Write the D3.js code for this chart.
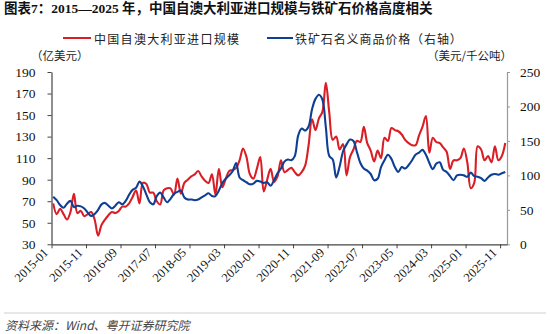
<!DOCTYPE html>
<html><head><meta charset="utf-8">
<script src="https://cdn.jsdelivr.net/npm/d3@7"></script>
<style>
html,body{margin:0;padding:0;background:#fff;}
svg{display:block;}
</style></head>
<body>
<svg id="chart" width="550" height="334"></svg>
<script>
// ---- data ----
const titleText = "图表7：2015—2025 年，中国自澳大利亚进口规模与铁矿石价格高度相关";
const sourceText = "资料来源：Wind、粤开证券研究院";
const seriesNames = ["中国自澳大利亚进口规模", "铁矿石名义商品价格（右轴）"];
const leftUnit = "（亿美元）";
const rightUnit = "（美元/千公吨）";

// monthly categories 2015-01 .. 2025-12
const months = [];
for (let y = 2015; y <= 2025; y++) for (let m = 1; m <= 12; m++) months.push(y + "-" + String(m).padStart(2, "0"));

const tickLabels = ["2015-01","2015-11","2016-09","2017-07","2018-05","2019-03","2020-01","2020-11","2021-09","2022-07","2023-05","2024-03","2025-01","2025-11"];
const leftTicks = [30,50,70,90,110,130,150,170,190];
const rightTicks = [0,50,100,150,200,250];

// China imports from Australia (100 million USD), left axis
const importsAU = [68,58,63,58,53,60,77,59,61,56,
  58,60,53,38,48,53,57,60,59,61,
  65,65,68,74,80,68,87,86,78,78,
  70,67,80,82,82,76,91,77,87,90,
  93,95,98,93,89,87,95,76,100,83,
  91,98,99,101,108,119,111,95,91,100,
  111,79,90,100,88,93,108,97,99,101,
  97,94,97,103,122,146,136,147,153,180,
  152,127,130,118,123,94,111,118,126,125,
  139,124,117,107,117,110,129,126,138,136,
  135,132,127,124,122,122,131,139,149,115,
  129,125,124,120,116,100,108,108,110,119,
  106,82,87,121,118,108,112,106,121,108,
  112,124];

// Iron ore nominal price (USD / dmt), right axis
const ironOre = [69,64,57,53,59,63,54,56,55,52,
  46,41,44,50,58,60,56,52,56,61,
  58,63,72,79,82,91,84,72,61,58,
  70,75,68,61,66,73,76,78,68,65,
  65,64,65,68,71,74,70,70,78,89,
  95,100,106,118,97,93,90,87,88,92,
  91,89,90,85,93,103,110,120,123,122,
  128,158,168,165,171,196,211,217,210,170,
  128,123,97,113,135,145,152,150,134,118,
  110,107,102,93,95,112,122,130,124,112,
  105,112,110,115,122,130,133,137,130,118,
  109,117,119,108,105,99,93,100,101,100,
  98,104,99,98,96,92,97,101,102,101,
  103,105];

// ---- drawing ----
const svg = d3.select("#chart");
const serif = "'Liberation Serif','Times New Roman','Noto Sans CJK SC',serif";
const cjk = "'Noto Sans CJK SC','Liberation Serif',sans-serif";
const RED = "#D91E26", BLUE = "#0D3F93";

const x0 = 51.5, x1 = 507, yTop = 72, yBot = 244.3;
const x = d3.scaleLinear().domain([0, months.length]).range([x0, x1]);
const yL = d3.scaleLinear().domain([30, 190]).range([yBot, yTop]);
const yR = d3.scaleLinear().domain([0, 250]).range([yBot, yTop]);

// title
svg.append("text").attr("x", 4).attr("y", 13)
  .attr("font-family", serif).attr("font-weight", "bold").attr("font-size", 13.5)
  .attr("fill", "#111").text(titleText);

// legend
svg.append("line").attr("x1", 63).attr("x2", 91).attr("y1", 38).attr("y2", 38).attr("stroke", RED).attr("stroke-width", 2);
svg.append("text").attr("x", 94).attr("y", 38).attr("dominant-baseline", "central")
  .attr("font-family", cjk).attr("font-size", 12).attr("letter-spacing", 1.3).attr("fill", "#222").text(seriesNames[0]);
svg.append("line").attr("x1", 267).attr("x2", 293).attr("y1", 38).attr("y2", 38).attr("stroke", BLUE).attr("stroke-width", 2);
svg.append("text").attr("x", 295).attr("y", 38).attr("dominant-baseline", "central")
  .attr("font-family", cjk).attr("font-size", 12).attr("letter-spacing", 0.9).attr("fill", "#222").text(seriesNames[1]);

// units
svg.append("text").attr("x", 31).attr("y", 55).attr("dominant-baseline", "central")
  .attr("font-family", cjk).attr("font-size", 11.5).attr("fill", "#222").text(leftUnit);
svg.append("text").attr("x", 427).attr("y", 55).attr("dominant-baseline", "central")
  .attr("font-family", cjk).attr("font-size", 11.5).attr("fill", "#222").text(rightUnit);

// axes
const gL = svg.append("g").attr("transform", `translate(${x0},0)`)
  .call(d3.axisLeft(yL).tickValues(leftTicks).tickSize(4).tickSizeOuter(0).tickPadding(12));
gL.select(".domain").attr("stroke", "#444").attr("stroke-width", 1.2);
gL.selectAll(".tick line").attr("stroke", "#444");
gL.selectAll("text").attr("font-family", serif).attr("font-size", 13.5).attr("fill", "#111");

const gR = svg.append("g").attr("transform", `translate(${x1},0)`)
  .call(d3.axisRight(yR).tickValues(rightTicks).tickSize(3).tickSizeOuter(0).tickPadding(10));
gR.select(".domain").attr("stroke", "#999").attr("stroke-width", 1.2);
gR.selectAll(".tick line").attr("stroke", "#999");
gR.selectAll("text").attr("font-family", serif).attr("font-size", 13.5).attr("fill", "#111");

const tickIdx = tickLabels.map(t => months.indexOf(t));
const gB = svg.append("g").attr("transform", `translate(0,${yBot})`)
  .call(d3.axisBottom(x).tickValues(tickIdx).tickFormat((d, i) => tickLabels[i]).tickSize(4).tickSizeOuter(0));
gB.select(".domain").attr("stroke", "#444").attr("stroke-width", 1.2);
gB.selectAll(".tick line").attr("stroke", "#444");
gB.selectAll("text")
  .attr("font-family", serif).attr("font-size", 12.5).attr("fill", "#111")
  .attr("text-anchor", "end").attr("dy", null).attr("y", null)
  .attr("transform", "translate(-3,9) rotate(-45)");

// lines
const lineL = d3.line().x((d, i) => x(i + 0.5)).y(d => yL(d)).curve(d3.curveCatmullRom.alpha(0.5));
const lineR = d3.line().x((d, i) => x(i + 0.5)).y(d => yR(d)).curve(d3.curveCatmullRom.alpha(0.5));
svg.append("path").datum(importsAU).attr("d", lineL).attr("fill", "none").attr("stroke", RED).attr("stroke-width", 2.1).attr("stroke-linejoin", "round");
svg.append("path").datum(ironOre).attr("d", lineR).attr("fill", "none").attr("stroke", BLUE).attr("stroke-width", 2.1).attr("stroke-linejoin", "round");

// source
svg.append("line").attr("x1", 4).attr("x2", 546).attr("y1", 313).attr("y2", 313).attr("stroke", "#d0d0d0").attr("stroke-width", 1.2);
svg.append("text").attr("x", 5).attr("y", 330)
  .attr("font-family", cjk).attr("font-style", "italic").attr("font-size", 12).attr("fill", "#444").text(sourceText);
</script>
</body></html>
